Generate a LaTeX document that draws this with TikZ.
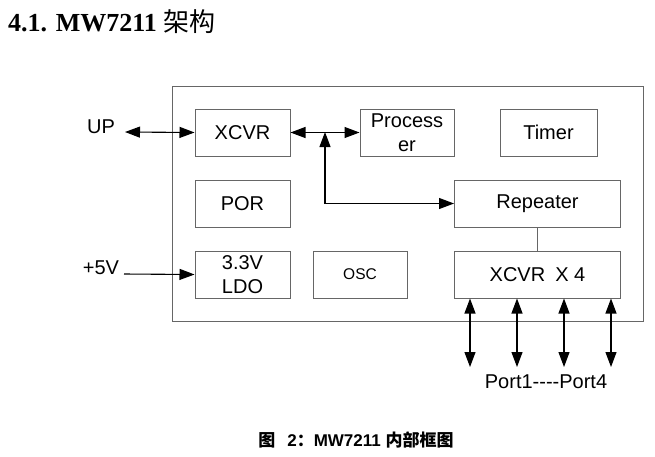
\documentclass[tikz,border=0pt]{standalone}
\usepackage{fontspec}
\setmainfont{Liberation Sans}
\newfontfamily\titlefont{Liberation Serif}
\newfontfamily\cjk{Noto Sans CJK SC}
\usetikzlibrary{arrows.meta}
\tikzset{
  blk/.style={draw=black!60, line width=1pt, minimum width=95pt, minimum height=47pt,
    align=center, font=\fontsize{20}{24}\selectfont, inner sep=0pt},
  lbl/.style={font=\fontsize{20}{24}\selectfont, inner sep=0pt},
  biarrow/.style={line width=1.1pt, {Triangle[length=15pt,width=11pt]}-{Triangle[length=15pt,width=11pt]}},
  onearrow/.style={line width=1.1pt, -{Triangle[length=15pt,width=11pt]}}
}
\begin{document}
\begin{tikzpicture}[x=1pt,y=-1pt]
  \useasboundingbox (0,0) rectangle (655,456);
  % heading and caption
  \node[anchor=west, inner sep=0pt, font=\fontsize{26}{30}\selectfont] (head) at (8,22)
    {\titlefont\bfseries 4.1. MW7211 {\cjk\mdseries 架构}};
  \node[inner sep=0pt, font=\fontsize{17}{20}\selectfont\bfseries] (caption) at (356,440)
    {{\cjk 图}\hspace{0.7em}2{\cjk ：}MW7211 {\cjk 内部框图}};
  % chip outline
  \node[draw=black!60, line width=1pt, minimum width=471pt, minimum height=235pt] (chip) at (407.5,203.5) {};
  % blocks
  \node[blk] (xcvr) at (242.5,132.5) {XCVR};
  \node[blk, minimum width=94pt] (proc) at (407,132.5) {Process\\er};
  \node[blk, minimum width=97pt] (timer) at (548.5,132.5) {Timer};
  \node[blk] (por) at (242.5,203.5) {POR};
  \node[blk, minimum width=166pt] (rep) at (537.5,203.5) {Repeater};
  \node[blk] (ldo) at (242.5,274.5) {3.3V\\LDO};
  \node[blk, minimum width=94pt, font=\fontsize{15.5}{18}\selectfont] (osc) at (360,274.5) {OSC};
  \node[blk, minimum width=166pt] (xcvrx) at (537.5,274.5) {XCVR\hspace{0.5em}X 4};
  % outside labels
  \node[lbl] (up) at (101,127) {UP};
  \node[lbl] (vin) at (101,268) {+5V};
  \node[lbl] (ports) at (546,382) {Port1-{}-{}-{}-Port4};
  \coordinate (upend) at (125,132);
  \coordinate (vinend) at (124,274);
  \coordinate (bus) at (325,132);
  % connectors
  \draw[biarrow] (upend) -- (xcvr.west);
  \draw[onearrow] (vinend) -- (ldo.west);
  \draw[biarrow] (xcvr.east) -- (proc.west);
  \draw[biarrow] (bus) |- (rep.west);
  \draw[draw=black!60, line width=1pt] (rep.south) -- (xcvrx.south |- xcvrx.north);
  \foreach \px in {470,517,564,611}
    \draw[biarrow] (xcvrx.south -| \px,0) -- (\px,367);
\end{tikzpicture}
\end{document}
